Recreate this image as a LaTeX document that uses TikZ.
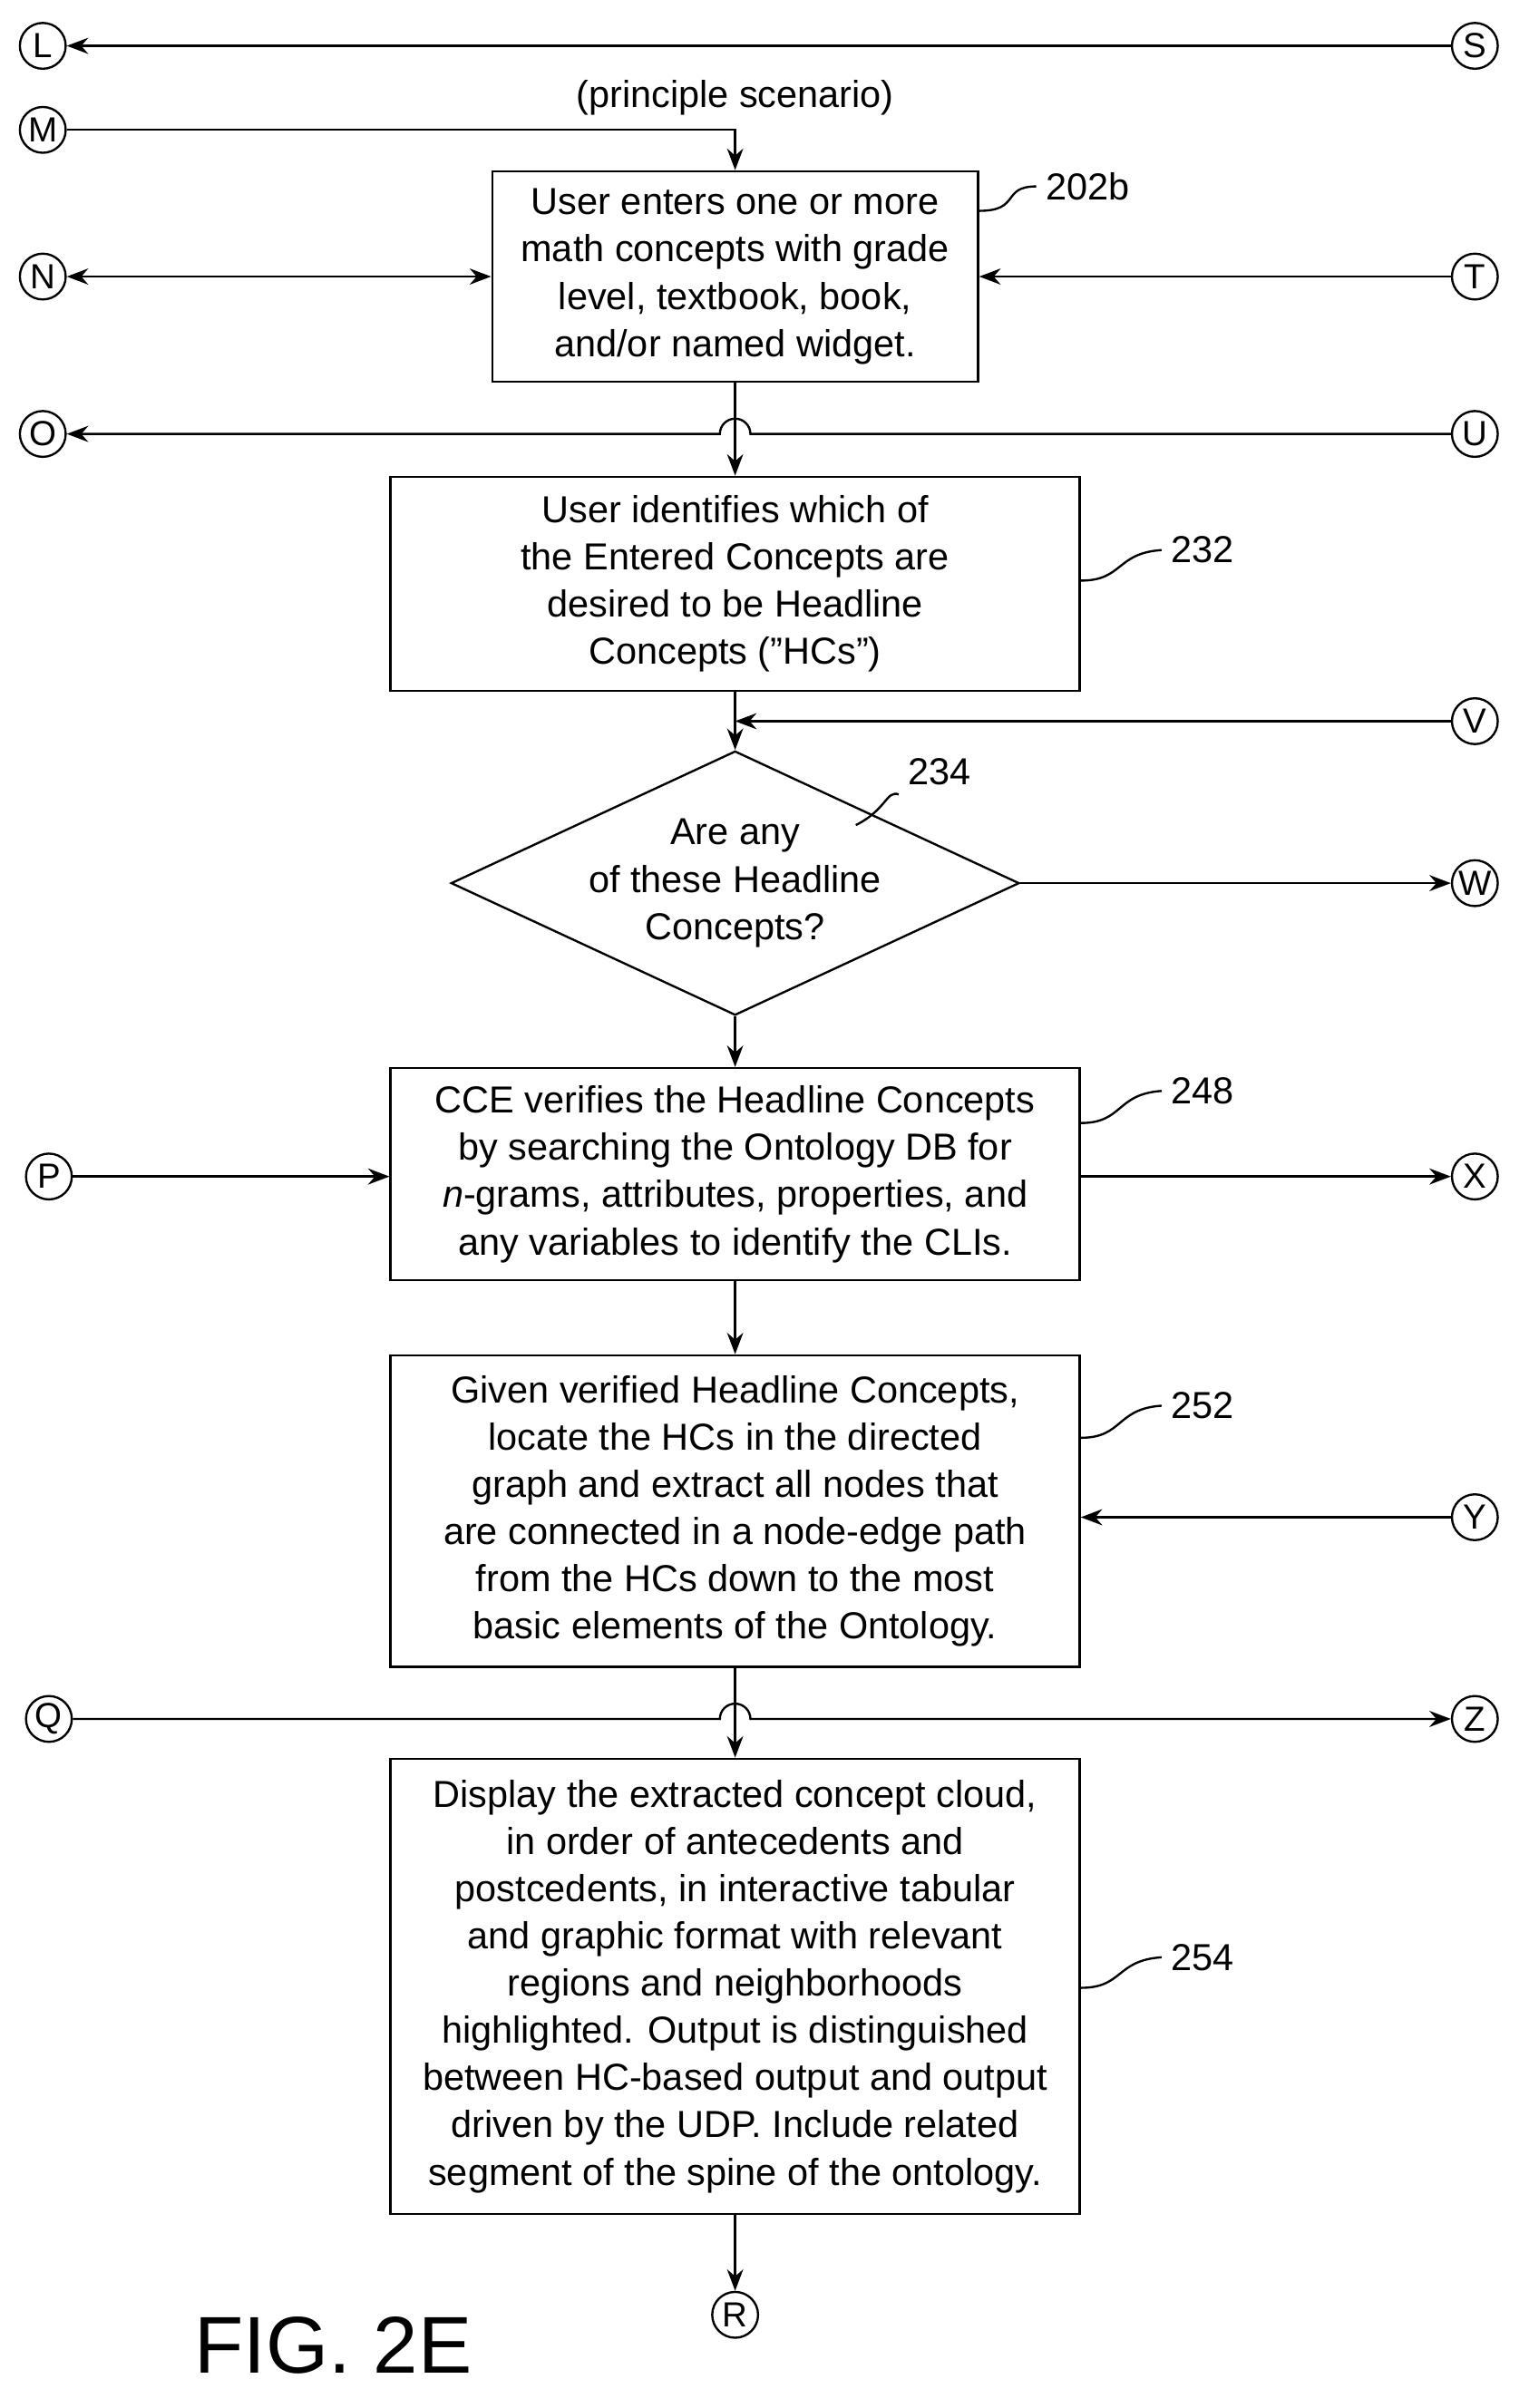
\documentclass[tikz,border=0pt]{standalone}
\usepackage{fontspec}
\setmainfont{Liberation Sans}
\usetikzlibrary{positioning, shapes.geometric, arrows.meta}

\begin{document}
\begin{tikzpicture}[
  x=0.02cm, y=-0.02cm,
  >={Stealth[length=8pt,width=6pt]},
  every node/.style={font=\fontsize{14}{17.6}\selectfont},
  procbox/.style={draw, thick, align=center, inner sep=2pt},
  conn/.style={draw, thick, circle, minimum size=0.6cm, inner sep=0pt, font=\fontsize{13}{13}\selectfont},
  flow/.style={thick, ->},
  refnum/.style={font=\fontsize{14}{14}\selectfont, anchor=west}
]
\useasboundingbox (0,0) rectangle (1000,1576);

% off-page connectors
\foreach \n/\x/\y in {L/28/30, S/965/30, M/28/85, N/28/181, T/965/181, O/28/284, U/965/284,
  V/965/472, W/965/578, P/32/770, X/965/770, Y/965/993, Q/32/1125, Z/965/1125, R/481/1515} {
  \node[conn] (\n) at (\x,\y) {\n};
}

% process steps
\node[procbox, minimum width=6.36cm, minimum height=2.76cm] (s202) at (481,181)
  {User enters one or more\\math concepts with grade\\level, textbook, book,\\and/or named widget.};
\node[procbox, minimum width=9.02cm, minimum height=2.8cm] (s232) at (481,382)
  {User identifies which of\\the Entered Concepts are\\desired to be Headline\\Concepts ("HCs")};
\node[draw, thick, diamond, aspect=2.15, minimum width=6.24cm, minimum height=2.92cm, inner sep=0pt, align=center] (d234) at (481,578)
  {Are any\\of these Headline\\Concepts?};
\node[procbox, minimum width=9.02cm, minimum height=2.78cm] (s248) at (481,768.5)
  {CCE verifies the Headline Concepts\\by searching the Ontology DB for\\\textit{n}-grams, attributes, properties, and\\any variables to identify the CLIs.};
\node[procbox, minimum width=9.02cm, minimum height=4.08cm] (s252) at (481,989)
  {Given verified Headline Concepts,\\locate the HCs in the directed\\graph and extract all nodes that\\are connected in a node-edge path\\from the HCs down to the most\\basic elements of the Ontology.};
\node[procbox, minimum width=9.02cm, minimum height=5.96cm] (s254) at (481,1300)
  {Display the extracted concept cloud,\\in order of antecedents and\\postcedents, in interactive tabular\\and graphic format with relevant\\regions and neighborhoods\\highlighted. Output is distinguished\\between HC-based output and output\\driven by the UDP. Include related\\segment of the spine of the ontology.};

\node (scen) at (481,64) {(principle scenario)};
\node[font=\fontsize{30}{30}\selectfont] (fig) at (218,1535) {FIG. 2E};

% reference numerals
\node[refnum] (n202) at (678,122) {202b};
\node[refnum] (n232) at (760,360) {232};
\node[refnum] (n234) at (588,505) {234};
\node[refnum] (n248) at (760,714) {248};
\node[refnum] (n252) at (760,920) {252};
\node[refnum] (n254) at (760,1281) {254};
\draw[thick] (s202.east |- 0,138) .. controls (668,138) and (655,122) .. (n202.west);
\draw[thick] (s232.east |- 0,380) .. controls (735,380) and (730,362) .. (n232.west);
\draw[thick] (560,540) .. controls (580,530) and (580,517) .. (n234.south west);
\draw[thick] (s248.east |- 0,735) .. controls (735,735) and (730,716) .. (n248.west);
\draw[thick] (s252.east |- 0,941) .. controls (735,941) and (730,922) .. (n252.west);
\draw[thick] (s254.east |- 0,1301) .. controls (735,1301) and (730,1283) .. (n254.west);

% connectors
\draw[flow] (S) -- (L);
\draw[flow] (M) -| (s202.north);
\draw[thick, <->] (N) -- (s202.west |- N);
\draw[flow] (T) -- (s202.east |- T);
\draw[flow] (U) -- (491,284) arc[start angle=0, end angle=180, radius=0.2cm] -- (O);
\draw[flow] (s202) -- (s232);
\draw[flow] (V) -- (481,472);
\draw[flow] (s232) -- (d234);
\draw[flow] (d234) -- (W);
\draw[flow] (d234) -- (s248);
\draw[flow] (P) -- (s248.west |- P);
\draw[flow] (s248.east |- X) -- (X);
\draw[flow] (s248) -- (s252);
\draw[flow] (Y) -- (s252.east |- Y);
\draw[flow] (Q) -- (471,1125) arc[start angle=180, end angle=0, radius=0.2cm] -- (Z);
\draw[flow] (s252) -- (s254);
\draw[flow] (s254) -- (R);
\end{tikzpicture}
\end{document}
